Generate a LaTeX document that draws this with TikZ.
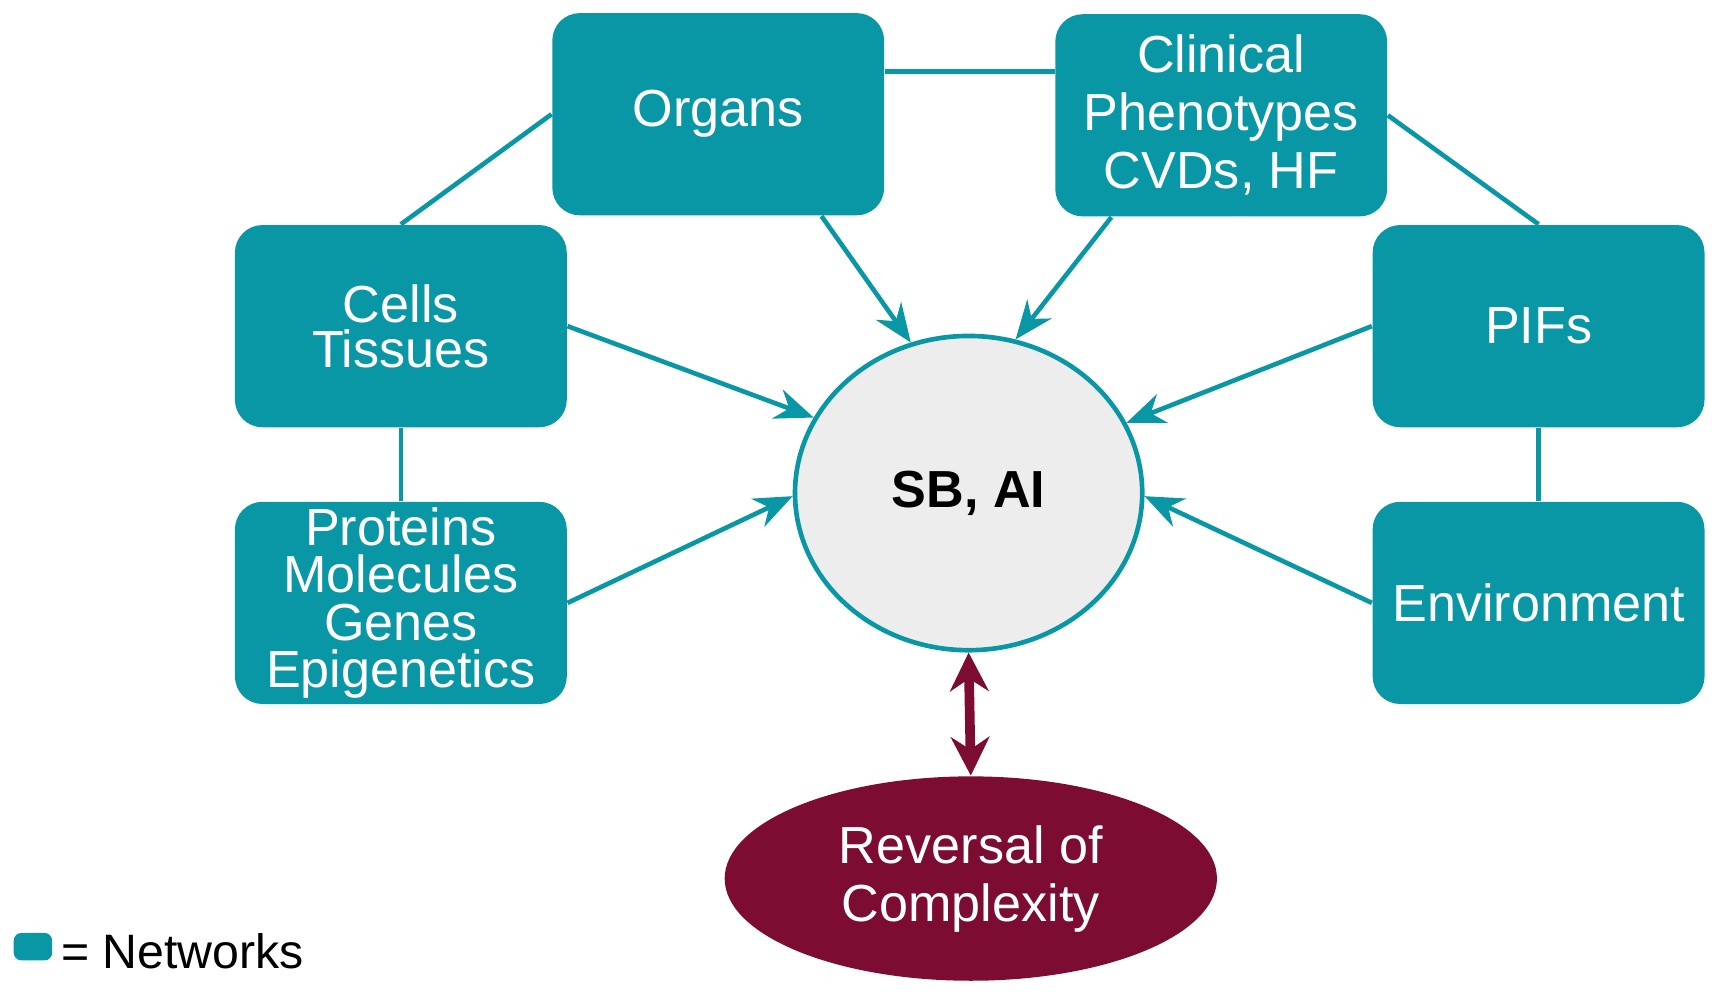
\documentclass[tikz,border=0pt]{standalone}
\usepackage{fontspec}
\setmainfont{Liberation Sans}
\usetikzlibrary{shapes.geometric,calc,arrows.meta}
\definecolor{teal1}{HTML}{0A97A5}
\definecolor{maroon1}{HTML}{7D0C33}
\begin{document}
\begin{tikzpicture}[x=0.01cm,y=-0.01cm,
 box/.style={fill=teal1,rounded corners=0.25cm,minimum width=3.02cm,minimum height=1.84cm,text=white,align=center,font=\fontsize{13.5}{13.5}\selectfont,inner sep=0pt},
 conn/.style={teal1,line width=1.2pt},
 arr/.style={conn,-{Stealth[length=10pt,width=8pt]}}]
\useasboundingbox (0,0) rectangle (1568,913);
\node[box] (organs) at (654,104) {Organs};
\node[box,font=\fontsize{13.5}{15}\selectfont] (clin) at (1112,105) {Clinical\\Phenotypes\\CVDs, HF};
\node[box,font=\fontsize{13.5}{11.8}\selectfont] (cells) at (365,297) {Cells\\Tissues};
\node[box] (pifs) at (1401,297) {PIFs};
\node[box,font=\fontsize{13.5}{12.3}\selectfont] (prot) at (365,549) {Proteins\\Molecules\\Genes\\Epigenetics};
\node[box] (env) at (1401,549) {Environment};
\node[ellipse,draw=teal1,line width=1.2pt,fill=black!7,minimum width=3.16cm,minimum height=2.86cm,font=\bfseries\fontsize{13.5}{13.5}\selectfont] (sb) at (882,449) {SB, AI};
\node[ellipse,fill=maroon1,minimum width=4.48cm,minimum height=1.86cm,text=white,align=center,font=\fontsize{13.5}{15}\selectfont] (rev) at (884,800) {Reversal of\\Complexity};
\draw[conn] (organs.west) -- (cells.north);
\draw[conn] ($(organs.east)+(0,-39)$) -- ($(clin.west)+(0,-40)$);
\draw[conn] (clin.east) -- (pifs.north);
\draw[conn] (cells.south) -- (prot.north);
\draw[conn] (pifs.south) -- (env.north);
\draw[arr] ($(organs.south)+(94,0)$) -- (sb.111);
\draw[arr] ($(clin.south)+(-100,0)$) -- (sb.73);
\draw[arr] (cells.east) -- (sb.154);
\draw[arr] (prot.east) -- (sb.181);
\draw[arr] (pifs.west) -- (sb.24);
\draw[arr] (env.west) -- (sb.359);
\draw[maroon1,line width=2.5pt,{Stealth[length=10pt,width=10pt]}-{Stealth[length=10pt,width=10pt]}] (sb.south) -- (rev.north);
\node[fill=teal1,rounded corners=2pt,minimum width=0.35cm,minimum height=0.25cm,inner sep=0pt] (leg) at (30,862) {};
\node[anchor=west,font=\fontsize{12.5}{12.5}\selectfont,inner sep=0pt] (legt) at (55,866) {= Networks};
\end{tikzpicture}
\end{document}
